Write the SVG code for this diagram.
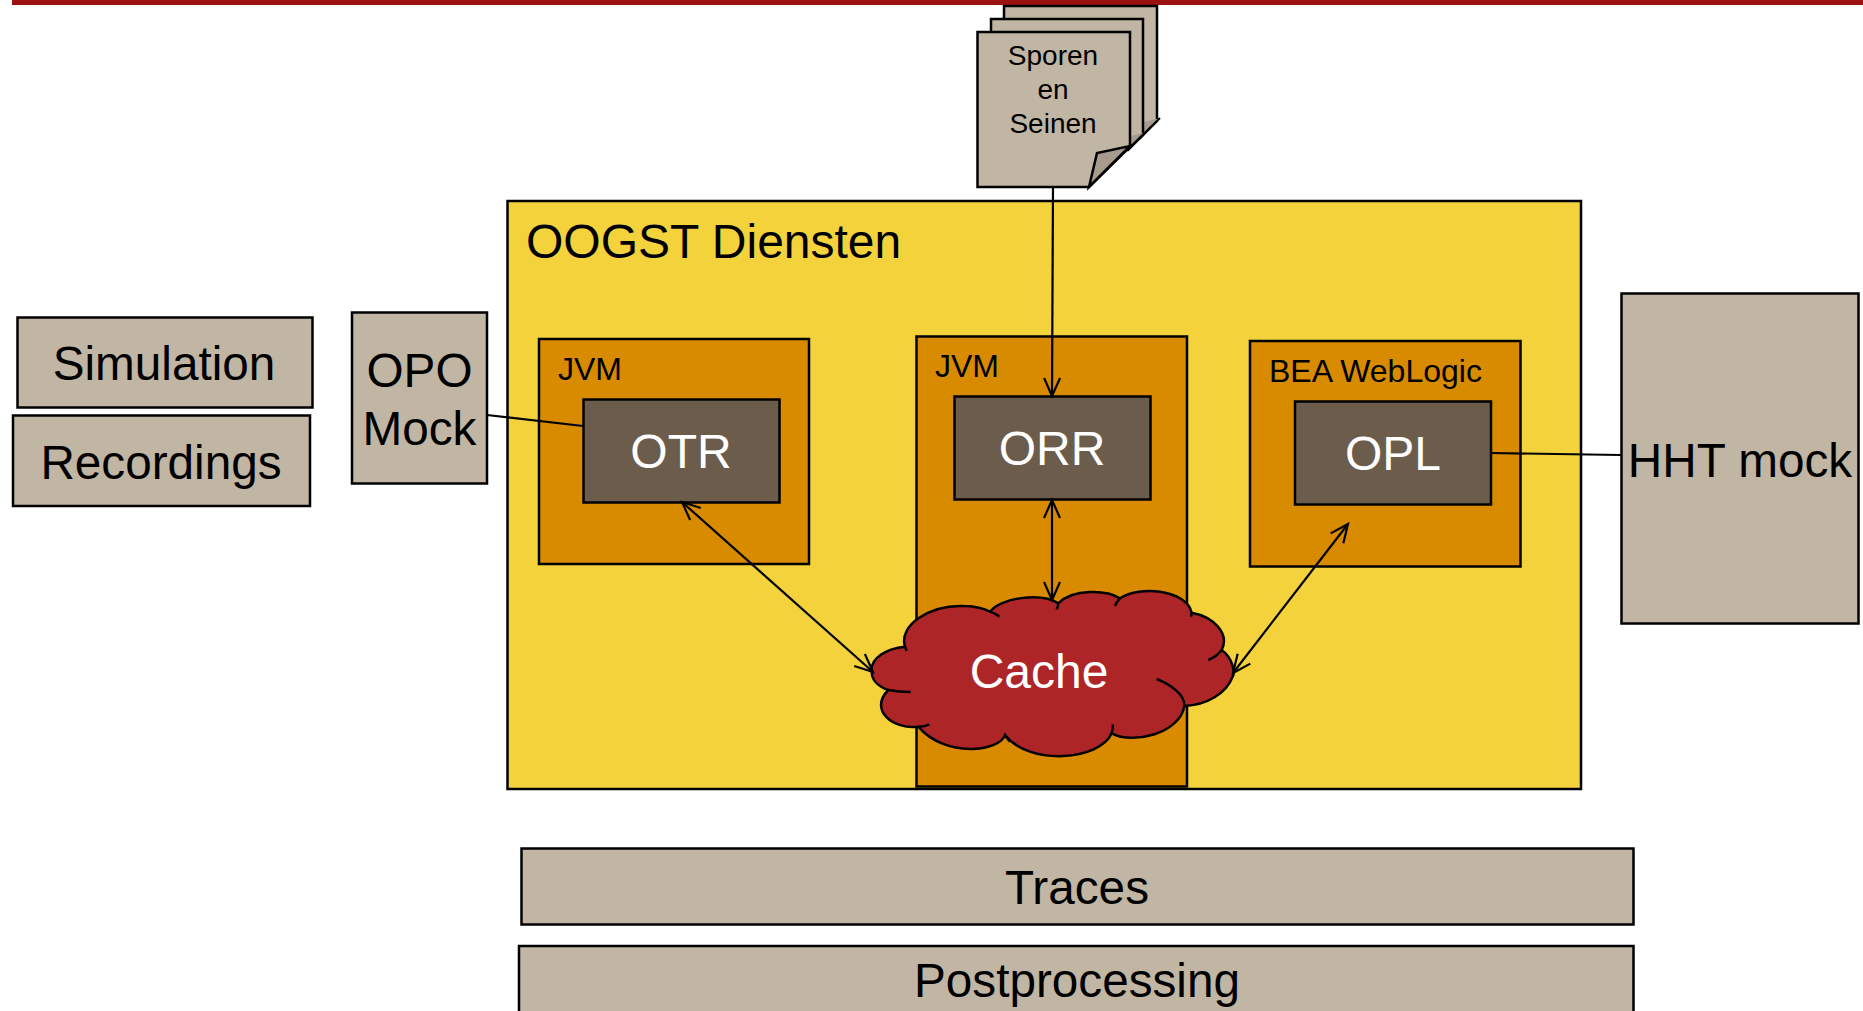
<svg xmlns="http://www.w3.org/2000/svg" width="1863" height="1011" viewBox="0 0 1863 1011">
<style>
text{font-family:"Liberation Sans",Arial,sans-serif;text-anchor:middle;fill:#000}
.b{fill:#c1b5a4;stroke:#000;stroke-width:2.5}
.o{fill:#d98b00;stroke:#000;stroke-width:2.5}
.d{fill:#6b5c4c;stroke:#000;stroke-width:2.5}
.c{fill:none;stroke:#000;stroke-width:2.2}
.t{font-size:47.700px}
.w{font-size:48px;fill:#fff}
.j{font-size:32px;text-anchor:start}
</style>
<defs>
<marker id="a" markerUnits="userSpaceOnUse" markerWidth="24" markerHeight="24" refX="20" refY="10" orient="auto-start-reverse" viewBox="0 0 24 20"><path d="M2 2L20 10L2 18" fill="none" stroke="#000" stroke-width="2.2"/></marker>
</defs>
<rect id="topbar" x="12" y="0" width="1851" height="5" fill="#9b1111"/>
<g id="oogst"><rect x="507.500" y="201" width="1073.500" height="588" fill="#f3d23c" stroke="#000" stroke-width="2.500"/><text x="526" y="258" style="font-size:48px;text-anchor:start">OOGST Diensten</text></g>
<g id="jvm1"><rect class="o" x="539" y="339" width="270" height="225"/><text class="j" x="558" y="380">JVM</text></g>
<g id="jvm2"><rect class="o" x="916.500" y="336.500" width="270.500" height="450"/><text class="j" x="935" y="377">JVM</text></g>
<g id="bea"><rect class="o" x="1250" y="341" width="270.500" height="225.500"/><text class="j" x="1269" y="382">BEA WebLogic</text></g>
<g id="otr"><rect class="d" x="583.500" y="399.500" width="196" height="103"/><text class="w" x="681" y="468">OTR</text></g>
<g id="orr"><rect class="d" x="954.500" y="396.500" width="196" height="103"/><text class="w" x="1052" y="465">ORR</text></g>
<g id="opl"><rect class="d" x="1295" y="401.500" width="196" height="103"/><text class="w" x="1393" y="470">OPL</text></g>
<g id="simulation"><rect class="b" x="17.500" y="317.500" width="295" height="90"/><text class="t" x="164" y="380">Simulation</text></g>
<g id="recordings"><rect class="b" x="13" y="415.500" width="297" height="90.500"/><text class="t" x="161" y="479">Recordings</text></g>
<g id="opomock"><rect class="b" x="352" y="312.500" width="135" height="171"/><text class="t" x="419.500" y="387">OPO</text><text class="t" x="419.500" y="445">Mock</text></g>
<g id="hht"><rect class="b" x="1621.500" y="293.500" width="237" height="330"/><text class="t" x="1740" y="477">HHT mock</text></g>
<g id="traces"><rect class="b" x="521.500" y="848.500" width="1112" height="76"/><text class="t" x="1077" y="904">Traces</text></g>
<g id="post"><rect class="b" x="519" y="946" width="1114.500" height="80"/><text class="t" x="1077" y="997">Postprocessing</text></g>
<g id="sporen" stroke="#000" stroke-width="2.500">
<path class="b" d="M1004 6H1157V121L1140 138H1004Z"/>
<path d="M1141 123L1160 118L1143 135Z" fill="#a69b8c" stroke="none"/>
<path class="b" d="M991 19H1143V135L1128 150H991Z"/>
<path d="M1128 137L1146 132L1130 148Z" fill="#a69b8c" stroke="none"/>
<path class="b" d="M977.500 32H1130V146L1089 187H977.500Z"/>
<path d="M1089 187L1097 153L1130 146Z" fill="#a69b8c"/>
<path d="M1089 187L1160 118" fill="none" stroke-width="2"/>
<text x="1053" y="65" style="font-size:28px" stroke="none">Sporen</text><text x="1053" y="99" style="font-size:28px" stroke="none">en</text><text x="1053" y="133" style="font-size:28px" stroke="none">Seinen</text></g>
<g id="cloud"><g transform="translate(850 570) scale(.33333)"><path d="M65 305C60 265 110 235 165 230C145 165 240 105 340 108C370 108 400 115 420 125C450 85 570 65 625 100C670 55 770 60 810 85C870 45 1010 60 1025 128C1090 140 1140 190 1115 240C1150 265 1155 310 1148 320C1130 370 1070 405 1003 408C990 490 850 525 785 490C750 570 540 590 465 495C450 545 285 565 205 470C130 480 55 420 115 360C85 350 65 330 65 305Z" fill="#ae2528" stroke="#000" stroke-width="7.500"/><path d="M420 125Q436 130 448 140M625 100Q624 110 620 118M810 85Q800 95 795 108M1025 128Q1026 135 1022 140M1115 240Q1100 260 1075 270M1003 408C1005 375 965 345 920 327M785 490Q790 475 788 463M465 495Q470 505 480 515M205 470Q225 470 238 463M115 360Q145 366 182 366M165 230L170 243" fill="none" stroke="#000" stroke-width="7.500"/></g><text class="w" x="1039" y="688">Cache</text></g>
<g id="connectors">
<path class="c" d="M1053 187L1052 396" marker-end="url(#a)"/>
<path class="c" d="M1052 500V600" marker-start="url(#a)" marker-end="url(#a)"/>
<path class="c" d="M682 502L873 672" marker-start="url(#a)" marker-end="url(#a)"/>
<path class="c" d="M1348 524L1233 673" marker-start="url(#a)" marker-end="url(#a)"/>
<path class="c" d="M487 415L583 426"/>
<path class="c" d="M1491 453L1621 455"/>
</g>
</svg>
